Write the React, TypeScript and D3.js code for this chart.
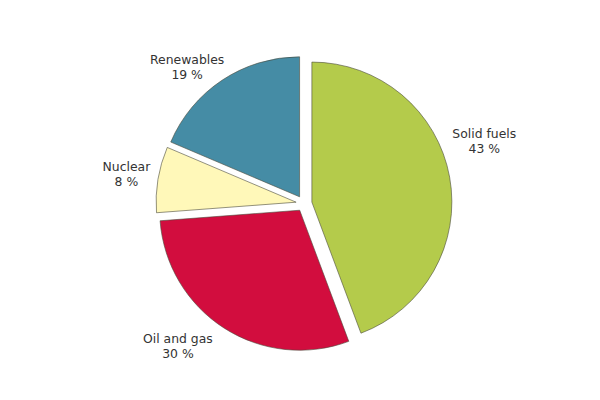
import * as d3 from 'd3';

// energy mix shares; printed labels as shown on the chart
const categories = ['Solid fuels', 'Oil and gas', 'Nuclear', 'Renewables'];
const shares = [44.3, 29.5, 7.6, 18.6];
const shareLabels = ['43 %', '30 %', '8 %', '19 %'];
const colors = ['#b4cb4b', '#d20d3e', '#fff8b9', '#458ca5'];
// labels sit a little off the slice middle angle (degrees) and at their own distance
const labelTurn = [-9, 9, 0, -7];
const labelDist = [191, 190, 180, 180];

const App = () => {
  const width = 600;
  const height = 400;
  const cx = 304;
  const cy = 203.5;
  const radius = 140;
  const explode = 8;

  const pie = d3
    .pie<number>()
    .sort(null)
    .value((d) => d);
  const arcs = pie(shares);

  const arc = d3
    .arc<d3.PieArcDatum<number>>()
    .innerRadius(0)
    .outerRadius(radius);

  return (
    <svg
      width={width}
      height={height}
      style={{ position: 'absolute', left: 0, top: 0, background: '#fff' }}
      fontFamily="'DejaVu Sans', Verdana, sans-serif"
      fontSize={12.4}
    >
      <g transform={`translate(${cx},${cy})`}>
        {arcs.map((a, i) => {
          const mid = (a.startAngle + a.endAngle) / 2;
          const dx = Math.sin(mid) * explode;
          const dy = -Math.cos(mid) * explode;
          return (
            <path
              key={categories[i]}
              d={arc(a) || ''}
              transform={`translate(${dx},${dy})`}
              fill={colors[i]}
              stroke="#4a4a3a"
              strokeWidth={0.6}
            />
          );
        })}
        {arcs.map((a, i) => {
          const mid = (a.startAngle + a.endAngle) / 2 + (labelTurn[i] * Math.PI) / 180;
          const x = Math.sin(mid) * labelDist[i];
          const y = -Math.cos(mid) * labelDist[i];
          return (
            <text key={categories[i]} textAnchor="middle" fill="#333">
              <tspan x={x} y={y - 3}>
                {categories[i]}
              </tspan>
              <tspan x={x} y={y + 12}>
                {shareLabels[i]}
              </tspan>
            </text>
          );
        })}
      </g>
    </svg>
  );
};

export default App;
